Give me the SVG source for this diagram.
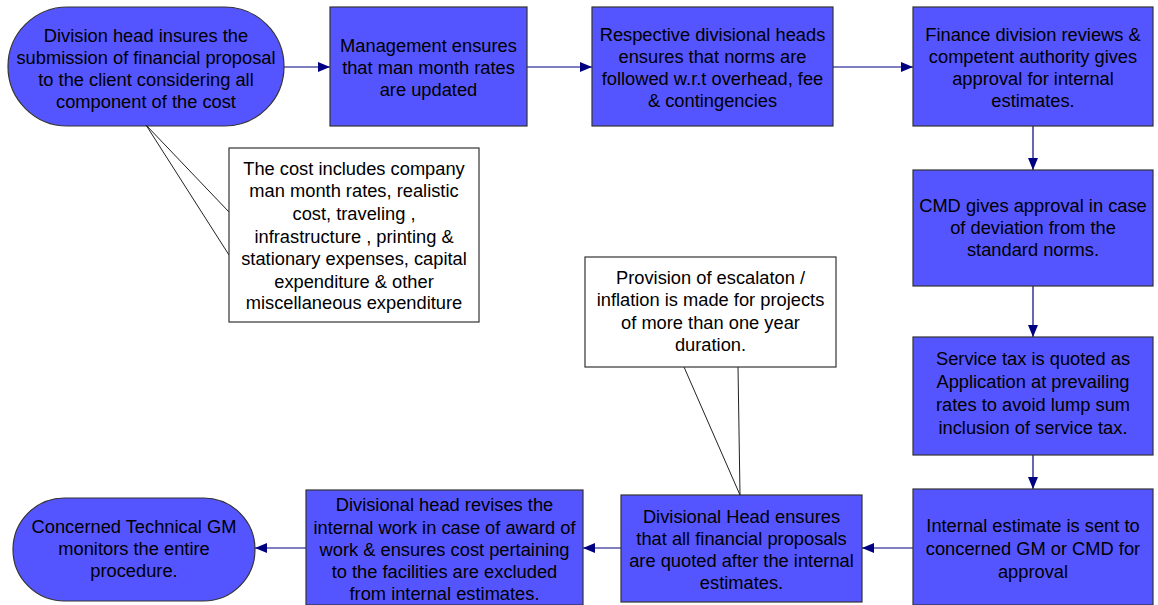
<svg xmlns="http://www.w3.org/2000/svg" width="1158" height="605" viewBox="0 0 1158 605">
<defs>
<marker id="ah" viewBox="0 0 12 10" refX="12" refY="5" markerWidth="12" markerHeight="10" markerUnits="userSpaceOnUse" orient="auto">
<path d="M0,0 L12,5 L0,10 Z" fill="#000080"/>
</marker>
<style>
.n{fill:#5555FF;stroke:#333333;stroke-width:1.2}
.c{fill:#FFFFFF;stroke:#333333;stroke-width:1.2}
.p{fill:none;stroke:#222222;stroke-width:1}
.t{font-family:"Liberation Sans",Arial,sans-serif;font-size:18.3px;fill:#000000;text-anchor:middle}
.e{stroke:#000080;stroke-width:1.2;fill:none;marker-end:url(#ah)}
</style>
</defs>
<rect width="1158" height="605" fill="#FFFFFF"/>
<g id="connectors">
<line class="e" x1="284" y1="67" x2="330" y2="67"/>
<line class="e" x1="527" y1="67" x2="592" y2="67"/>
<line class="e" x1="833" y1="67" x2="913" y2="67"/>
<line class="e" x1="1033" y1="126" x2="1033" y2="170"/>
<line class="e" x1="1033" y1="286" x2="1033" y2="337"/>
<line class="e" x1="1033" y1="455" x2="1033" y2="489"/>
<line class="e" x1="913" y1="548" x2="862" y2="548"/>
<line class="e" x1="621" y1="548" x2="583" y2="548"/>
<line class="e" x1="306" y1="548" x2="255" y2="548"/>
</g>
<g id="n1">
<rect class="n" x="8" y="7" width="276" height="119" rx="59.5" ry="59.5"/>
<text class="t"><tspan x="146" y="42">Division head insures the</tspan><tspan x="146" y="64">submission of financial proposal</tspan><tspan x="146" y="86">to the client considering all</tspan><tspan x="146" y="108">component of the cost</tspan></text>
</g>
<g id="n2">
<rect class="n" x="330" y="7" width="197" height="119"/>
<text class="t"><tspan x="428.5" y="52">Management ensures</tspan><tspan x="428.5" y="74">that man month rates</tspan><tspan x="428.5" y="96">are updated</tspan></text>
</g>
<g id="n3">
<rect class="n" x="592" y="7" width="241" height="119"/>
<text class="t"><tspan x="712.5" y="41">Respective divisional heads</tspan><tspan x="712.5" y="63">ensures that norms are</tspan><tspan x="712.5" y="85">followed w.r.t overhead, fee</tspan><tspan x="712.5" y="107">&amp; contingencies</tspan></text>
</g>
<g id="n4">
<rect class="n" x="913" y="7" width="240" height="119"/>
<text class="t"><tspan x="1033" y="41">Finance division reviews &amp;</tspan><tspan x="1033" y="63">competent authority gives</tspan><tspan x="1033" y="85">approval for internal</tspan><tspan x="1033" y="107">estimates.</tspan></text>
</g>
<g id="n5">
<rect class="n" x="913" y="170" width="240" height="116"/>
<text class="t"><tspan x="1033" y="212">CMD gives approval in case</tspan><tspan x="1033" y="234">of deviation from the</tspan><tspan x="1033" y="256">standard norms.</tspan></text>
</g>
<g id="n6">
<rect class="n" x="913" y="337" width="240" height="118"/>
<text class="t"><tspan x="1033" y="365">Service tax is quoted as</tspan><tspan x="1033" y="388">Application at prevailing</tspan><tspan x="1033" y="411">rates to avoid lump sum</tspan><tspan x="1033" y="434">inclusion of service tax.</tspan></text>
</g>
<g id="n7">
<rect class="n" x="913" y="489" width="240" height="116"/>
<text class="t"><tspan x="1033" y="532">Internal estimate is sent to</tspan><tspan x="1033" y="555">concerned GM or CMD for</tspan><tspan x="1033" y="578">approval</tspan></text>
</g>
<g id="n8">
<rect class="n" x="621" y="495" width="241" height="107"/>
<text class="t"><tspan x="741.5" y="523">Divisional Head ensures</tspan><tspan x="741.5" y="545">that all financial proposals</tspan><tspan x="741.5" y="567">are quoted after the internal</tspan><tspan x="741.5" y="589">estimates.</tspan></text>
</g>
<g id="n9">
<rect class="n" x="306" y="490" width="277" height="115"/>
<text class="t"><tspan x="444.5" y="511">Divisional head revises the</tspan><tspan x="444.5" y="534">internal work in case of award of</tspan><tspan x="444.5" y="556">work &amp; ensures cost pertaining</tspan><tspan x="444.5" y="578">to the facilities are excluded</tspan><tspan x="444.5" y="600">from internal estimates.</tspan></text>
</g>
<g id="n10">
<rect class="n" x="13" y="498" width="242" height="103" rx="51.5" ry="51.5"/>
<text class="t"><tspan x="134" y="533">Concerned Technical GM</tspan><tspan x="134" y="555">monitors the entire</tspan><tspan x="134" y="577">procedure.</tspan></text>
</g>
<g id="callout1">
<polyline class="p" points="229,212 146,125 229,255"/>
<rect class="c" x="229" y="148" width="250" height="174"/>
<text class="t"><tspan x="354" y="175">The cost includes company</tspan><tspan x="354" y="197">man month rates, realistic</tspan><tspan x="354" y="220">cost, traveling ,</tspan><tspan x="354" y="243">infrastructure , printing &amp;</tspan><tspan x="354" y="265">stationary expenses, capital</tspan><tspan x="354" y="288">expenditure &amp; other</tspan><tspan x="354" y="309">miscellaneous expenditure</tspan></text>
</g>
<g id="callout2">
<polyline class="p" points="684,367 740,495 738,367"/>
<rect class="c" x="585" y="257" width="251" height="110"/>
<text class="t"><tspan x="710.5" y="284">Provision of escalaton /</tspan><tspan x="710.5" y="306">inflation is made for projects</tspan><tspan x="710.5" y="329">of more than one year</tspan><tspan x="710.5" y="351">duration.</tspan></text>
</g>
</svg>
